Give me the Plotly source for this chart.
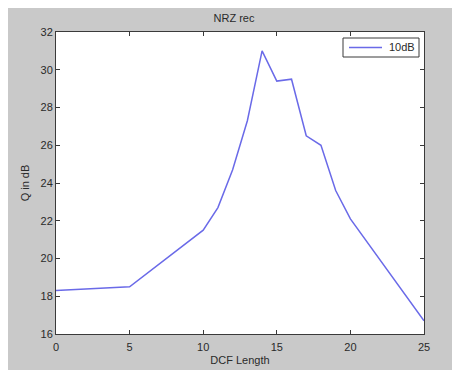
import plotly.graph_objects as go

dcf_length = [0, 5, 10, 11, 12, 13, 14, 15, 16, 17, 18, 19, 20, 25]
q_db = [18.3, 18.5, 21.5, 22.7, 24.7, 27.3, 31.0, 29.4, 29.5, 26.5, 26.0, 23.6, 22.1, 16.7]
series_name = "10dB"

x_ticks = [0, 5, 10, 15, 20, 25]
y_ticks = [16, 18, 20, 22, 24, 26, 28, 30, 32]

# page body adds an 8px offset; figure coordinates = screen - 8
W, H = 452, 364
L, R, T, B = 48, 416, 24, 326
pw, ph = R - L, B - T

def px(x):
    return (x - L) / pw

def py(y):
    return (B - y) / ph

FONT = "Liberation Sans, Arial"
TXT = "#2a2a2a"
AX = "#3a3a3a"
LINE = "#6a6ae8"

fig = go.Figure()
fig.add_trace(go.Scatter(x=dcf_length, y=q_db, mode="lines", name=series_name,
                         line=dict(color=LINE, width=1.5), showlegend=False))

axis_common = dict(showline=True, linecolor=AX, linewidth=1, mirror="ticks",
                   ticks="inside", ticklen=4, tickcolor=AX, showgrid=False,
                   zeroline=False, automargin=False,
                   tickfont=dict(family=FONT, size=11, color=TXT))

fig.update_xaxes(range=[0, 25], tickvals=x_ticks, ticklabelstandoff=3, **axis_common,
                 title=dict(text="DCF Length", font=dict(family=FONT, size=11, color=TXT), standoff=4))
fig.update_yaxes(range=[16, 32], tickvals=y_ticks, **axis_common,
                 title=dict(text="Q in dB", font=dict(family=FONT, size=11, color=TXT), standoff=8))

# bottom white strip below the grey figure frame
fig.add_shape(type="rect", xref="paper", yref="paper", x0=px(-10), x1=px(W + 10), y0=py(H + 5), y1=py(H - 2),
              fillcolor="white", line=dict(width=0), layer="above")

# legend box drawn to MATLAB proportions
fig.add_shape(type="rect", xref="paper", yref="paper", x0=px(335), x1=px(411), y0=py(49), y1=py(30),
              fillcolor="white", line=dict(color=AX, width=1), layer="above")
fig.add_shape(type="line", xref="paper", yref="paper", x0=px(341), x1=px(374), y0=py(39.5), y1=py(39.5),
              line=dict(color=LINE, width=1.5), layer="above")
fig.add_annotation(xref="paper", yref="paper", x=px(379), y=py(39.5), xanchor="left", yanchor="middle",
                   text=series_name, showarrow=False, font=dict(family=FONT, size=11, color=TXT))

fig.update_layout(
    width=W, height=H,
    margin=dict(l=L, r=W - R, t=T, b=H - B, pad=0, autoexpand=False),
    paper_bgcolor="#c9c9c9", plot_bgcolor="white",
    title=dict(text="NRZ rec", x=px(232), xanchor="center", y=1 - 10 / H, yanchor="middle",
               font=dict(family=FONT, size=11, color=TXT)),
    showlegend=False,
)

fig.write_html("out.html")
